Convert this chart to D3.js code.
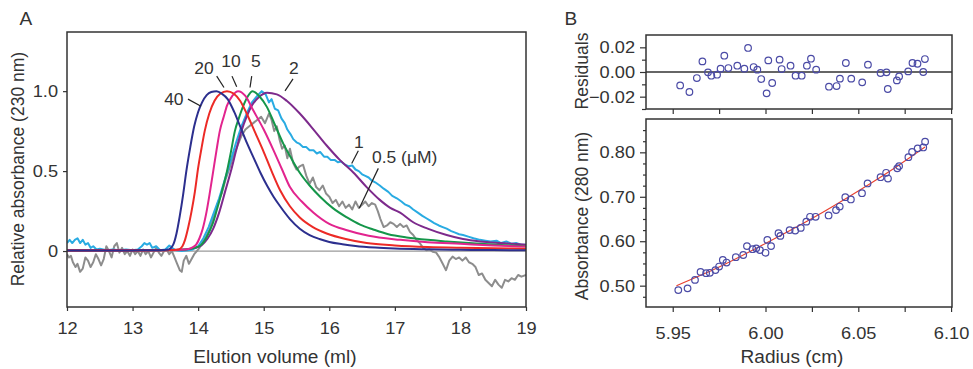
<!DOCTYPE html>
<html>
<head>
<meta charset="utf-8">
<script src="https://cdn.jsdelivr.net/npm/d3@7"></script>
<style>
  body { margin: 0; background: #fff; }
  text { font-family: "Liberation Sans", Arial, sans-serif; fill: #333; }
</style>
</head>
<body>
<svg id="fig" width="973" height="369"></svg>
<script>
// ---- Panel A data: elution profiles, normalised absorbance at 230 nm ----
const volumeTicks = [12, 13, 14, 15, 16, 17, 18, 19];
const relAbsTicks = [0, 0.5, 1.0];
const relAbsTickLabels = ['0', '0.5', '1.0'];

const vol40 = [12, 12.5, 13, 13.4, 13.55, 13.62, 13.67, 13.72, 13.77, 13.82, 13.88, 13.94, 14.0, 14.06, 14.13, 14.2, 14.28, 14.36, 14.45, 14.55, 14.65, 14.75, 14.85, 14.95, 15.05, 15.15, 15.25, 15.4, 15.55, 15.7, 15.85, 16.0, 16.2, 16.4, 16.7, 17.0, 17.5, 18, 18.5, 19];
const abs40 = [0.003, 0.003, 0.004, 0.005, 0.01, 0.04, 0.11, 0.22, 0.35, 0.50, 0.65, 0.78, 0.87, 0.93, 0.975, 0.995, 1.0, 0.985, 0.95, 0.87, 0.77, 0.67, 0.58, 0.49, 0.41, 0.34, 0.28, 0.20, 0.14, 0.10, 0.075, 0.057, 0.043, 0.032, 0.022, 0.016, 0.011, 0.008, 0.006, 0.005];

const vol20 = [12, 12.5, 13, 13.5, 13.7, 13.76, 13.8, 13.85, 13.9, 13.95, 14.0, 14.05, 14.1, 14.17, 14.25, 14.34, 14.44, 14.54, 14.64, 14.74, 14.86, 14.99, 15.12, 15.25, 15.4, 15.55, 15.75, 15.96, 16.25, 16.57, 17.0, 17.5, 18, 18.5, 19];
const abs20 = [0.004, 0.004, 0.004, 0.005, 0.01, 0.03, 0.07, 0.15, 0.25, 0.37, 0.52, 0.64, 0.75, 0.86, 0.94, 0.985, 1.0, 0.985, 0.94, 0.86, 0.75, 0.63, 0.50, 0.38, 0.28, 0.21, 0.15, 0.11, 0.075, 0.05, 0.035, 0.025, 0.02, 0.017, 0.015];

const vol10 = [12, 12.5, 13, 13.5, 13.8, 13.9, 13.97, 14.02, 14.07, 14.13, 14.18, 14.23, 14.28, 14.33, 14.39, 14.44, 14.52, 14.61, 14.72, 14.84, 15.0, 15.15, 15.28, 15.4, 15.58, 15.76, 16.0, 16.27, 16.6, 17.08, 17.5, 18, 18.5, 19];
const abs10 = [0.005, 0.005, 0.005, 0.006, 0.01, 0.02, 0.04, 0.08, 0.14, 0.25, 0.37, 0.50, 0.63, 0.75, 0.84, 0.91, 0.97, 1.0, 0.97, 0.88, 0.76, 0.63, 0.51, 0.40, 0.31, 0.24, 0.17, 0.13, 0.095, 0.07, 0.055, 0.045, 0.035, 0.028];

const vol5 = [12, 12.5, 13, 13.5, 13.8, 13.95, 14.05, 14.12, 14.18, 14.23, 14.28, 14.36, 14.44, 14.5, 14.56, 14.62, 14.69, 14.76, 14.83, 14.93, 15.05, 15.17, 15.30, 15.42, 15.55, 15.7, 15.86, 16.05, 16.27, 16.47, 16.67, 16.9, 17.18, 17.5, 17.79, 18.3, 18.7, 19];
const abs5 = [0.005, 0.005, 0.005, 0.006, 0.01, 0.02, 0.04, 0.08, 0.13, 0.18, 0.25, 0.37, 0.50, 0.62, 0.75, 0.83, 0.91, 0.97, 1.0, 0.97, 0.90, 0.79, 0.67, 0.58, 0.49, 0.41, 0.34, 0.27, 0.21, 0.165, 0.135, 0.105, 0.085, 0.07, 0.06, 0.045, 0.036, 0.03];

const vol2 = [12, 12.5, 13, 13.5, 13.8, 13.95, 14.05, 14.14, 14.23, 14.32, 14.41, 14.5, 14.58, 14.66, 14.74, 14.82, 14.92, 15.05, 15.2, 15.35, 15.55, 15.76, 15.96, 16.16, 16.37, 16.57, 16.77, 16.93, 17.08, 17.28, 17.5, 17.79, 18.04, 18.3, 18.6, 19];
const abs2 = [0.004, 0.004, 0.004, 0.005, 0.01, 0.02, 0.035, 0.075, 0.14, 0.24, 0.37, 0.50, 0.63, 0.75, 0.84, 0.91, 0.96, 0.99, 0.98, 0.94, 0.86, 0.76, 0.66, 0.57, 0.49, 0.40, 0.32, 0.27, 0.24, 0.18, 0.14, 0.10, 0.075, 0.06, 0.05, 0.04];

const vol1 = [12.00, 12.04, 12.08, 12.12, 12.16, 12.20, 12.24, 12.28, 12.32, 12.36, 12.40, 12.45, 12.5, 12.6, 12.7, 12.8, 12.9, 13.0, 13.08, 13.14, 13.18, 13.22, 13.26, 13.30, 13.36, 13.42, 13.5, 13.56, 13.6, 13.66, 13.75, 13.85, 13.92, 14.0, 14.08, 14.16, 14.24, 14.32, 14.41, 14.5, 14.58, 14.66, 14.74, 14.82, 14.9, 14.97, 15.03, 15.08, 15.12, 15.17, 15.22, 15.27, 15.32, 15.36, 15.41, 15.45, 15.5, 15.55, 15.6, 15.65, 15.7, 15.76, 15.81, 15.86, 15.92, 15.97, 16.02, 16.08, 16.13, 16.18, 16.24, 16.3, 16.35, 16.4, 16.45, 16.5, 16.55, 16.6, 16.65, 16.7, 16.77, 16.83, 16.9, 16.96, 17.03, 17.1, 17.16, 17.22, 17.28, 17.35, 17.42, 17.48, 17.54, 17.6, 17.67, 17.73, 17.79, 17.86, 17.92, 17.98, 18.04, 18.12, 18.2, 18.3, 18.38, 18.46, 18.55, 18.62, 18.7, 18.78, 18.85, 18.92, 19.0];
const abs1 = [0.05, 0.07, 0.05, 0.07, 0.08, 0.05, 0.07, 0.04, 0.05, 0.02, 0.03, 0.01, 0.015, 0.005, 0.01, 0.005, 0.01, 0.005, 0.01, 0.03, 0.05, 0.04, 0.05, 0.02, 0.03, 0.005, 0.01, 0.035, 0.02, 0.005, 0.0, 0.005, 0.01, 0.03, 0.08, 0.15, 0.24, 0.33, 0.45, 0.57, 0.68, 0.78, 0.86, 0.93, 0.97, 1.0, 0.98, 0.93, 0.95, 0.89, 0.88, 0.83, 0.80, 0.76, 0.73, 0.70, 0.68, 0.67, 0.65, 0.65, 0.63, 0.63, 0.61, 0.62, 0.59, 0.59, 0.57, 0.57, 0.555, 0.56, 0.54, 0.53, 0.535, 0.51, 0.50, 0.48, 0.47, 0.46, 0.44, 0.43, 0.41, 0.39, 0.37, 0.345, 0.33, 0.31, 0.29, 0.28, 0.26, 0.24, 0.22, 0.205, 0.19, 0.175, 0.16, 0.15, 0.14, 0.125, 0.115, 0.105, 0.10, 0.09, 0.08, 0.07, 0.065, 0.06, 0.065, 0.05, 0.06, 0.045, 0.05, 0.04, 0.04];

const vol05 = [12.00, 12.03, 12.06, 12.09, 12.13, 12.16, 12.20, 12.24, 12.28, 12.32, 12.36, 12.40, 12.44, 12.48, 12.52, 12.56, 12.60, 12.64, 12.68, 12.72, 12.76, 12.80, 12.84, 12.88, 12.92, 12.96, 13.00, 13.04, 13.08, 13.12, 13.16, 13.20, 13.24, 13.28, 13.32, 13.36, 13.40, 13.44, 13.48, 13.52, 13.56, 13.60, 13.64, 13.68, 13.72, 13.75, 13.78, 13.82, 13.86, 13.90, 13.94, 13.98, 14.02, 14.06, 14.12, 14.18, 14.24, 14.30, 14.36, 14.42, 14.48, 14.54, 14.60, 14.66, 14.72, 14.78, 14.84, 14.90, 14.96, 15.02, 15.08, 15.12, 15.16, 15.20, 15.24, 15.28, 15.32, 15.36, 15.40, 15.45, 15.50, 15.55, 15.60, 15.65, 15.70, 15.75, 15.80, 15.85, 15.90, 15.95, 16.00, 16.05, 16.10, 16.15, 16.20, 16.25, 16.30, 16.35, 16.40, 16.45, 16.50, 16.55, 16.60, 16.65, 16.70, 16.74, 16.78, 16.83, 16.88, 16.93, 16.98, 17.03, 17.08, 17.13, 17.18, 17.23, 17.28, 17.33, 17.38, 17.43, 17.48, 17.53, 17.58, 17.63, 17.68, 17.73, 17.78, 17.83, 17.88, 17.93, 17.98, 18.03, 18.08, 18.13, 18.18, 18.23, 18.28, 18.33, 18.38, 18.43, 18.48, 18.53, 18.58, 18.63, 18.68, 18.73, 18.78, 18.83, 18.88, 18.93, 19.00];
const abs05 = [-0.02, -0.04, -0.03, -0.07, -0.10, -0.08, -0.13, -0.11, -0.04, -0.06, -0.10, -0.07, -0.02, -0.05, -0.09, -0.05, 0.03, 0.0, -0.04, 0.03, 0.05, -0.01, 0.02, -0.02, 0.0, -0.03, 0.01, -0.02, 0.0, -0.03, 0.01, -0.02, 0.0, -0.04, -0.01, 0.02, -0.01, -0.03, 0.0, 0.01, -0.02, 0.0, -0.04, -0.08, -0.12, -0.13, -0.06, -0.03, -0.08, -0.05, -0.02, 0.0, 0.02, 0.05, 0.09, 0.14, 0.22, 0.30, 0.36, 0.45, 0.52, 0.60, 0.66, 0.72, 0.76, 0.78, 0.80, 0.82, 0.84, 0.80, 0.86, 0.82, 0.75, 0.78, 0.70, 0.64, 0.66, 0.58, 0.64, 0.55, 0.51, 0.53, 0.54, 0.47, 0.42, 0.46, 0.40, 0.38, 0.41, 0.36, 0.34, 0.30, 0.32, 0.28, 0.31, 0.27, 0.29, 0.26, 0.31, 0.27, 0.29, 0.31, 0.28, 0.30, 0.29, 0.25, 0.20, 0.15, 0.16, 0.18, 0.17, 0.15, 0.17, 0.15, 0.16, 0.12, 0.10, 0.07, 0.05, 0.02, 0.005, 0.01, -0.005, -0.01, -0.04, -0.08, -0.12, -0.06, -0.035, -0.05, -0.04, -0.06, -0.04, -0.07, -0.08, -0.10, -0.15, -0.14, -0.18, -0.20, -0.22, -0.18, -0.21, -0.23, -0.18, -0.19, -0.17, -0.18, -0.15, -0.16, -0.15];

// curve labels, placed in data units (volume, relative absorbance)
const concLabels = ['40', '20', '10', '5', '2', '1', '0.5 (\u03bcM)'];
const labelVol = [13.63, 14.09, 14.50, 14.88, 15.46, 16.45, 16.65];
const labelAbs = [0.95, 1.144, 1.19, 1.19, 1.144, 0.678, 0.588];
const leaderVol = [[13.845, 14.044], [14.283, 14.394], [14.516, 14.588], [14.817, 14.791], [15.447, 15.325], [16.443, 16.342], [16.748, 16.458]];
const leaderAbs = [[0.950, 0.906], [1.094, 1.023], [1.094, 1.027], [1.094, 1.023], [1.077, 1.002], [0.627, 0.548], [0.517, 0.267]];

// ---- Panel B data: sedimentation equilibrium ----
const radiusTicks = [5.95, 5.975, 6.00, 6.025, 6.05, 6.075, 6.10];
const residualTicks = [-0.03, -0.02, -0.01, 0, 0.01, 0.02];
const absTicks = [0.475, 0.50, 0.525, 0.55, 0.575, 0.60, 0.625, 0.65, 0.675, 0.70, 0.725, 0.75, 0.775, 0.80, 0.825, 0.85];

const resRadius = [5.954, 5.959, 5.963, 5.966, 5.969, 5.9708, 5.9739, 5.9758, 5.9778, 5.980, 5.9848, 5.9886, 5.9906, 5.9936, 5.9956, 5.9977, 6.0006, 6.0015, 6.0036, 6.0076, 6.0087, 6.0135, 6.0162, 6.0195, 6.0223, 6.0245, 6.0273, 6.0342, 6.0383, 6.0401, 6.0433, 6.0462, 6.0521, 6.0552, 6.062, 6.0652, 6.0659, 6.0708, 6.072, 6.0769, 6.0792, 6.0819, 6.085, 6.0859];
const residuals = [-0.0109, -0.0162, -0.0049, 0.0086, -0.0003, -0.003, -0.0022, 0.0027, 0.0132, 0.0032, 0.0051, 0.0027, 0.0195, 0.004, 0.0019, -0.0057, -0.0173, 0.0094, -0.0089, 0.010, 0.0024, 0.0051, -0.003, -0.003, 0.0051, 0.0108, 0.0019, -0.0119, -0.0114, -0.0054, 0.0073, -0.0054, -0.0084, 0.0059, -0.0008, -0.0003, -0.0138, -0.0068, -0.0036, 0.0005, 0.0073, 0.0067, 0.0, 0.0105];

const absRadius = [5.953, 5.958, 5.962, 5.965, 5.968, 5.970, 5.973, 5.975, 5.977, 5.979, 5.984, 5.988, 5.990, 5.993, 5.995, 5.997, 6.000, 6.001, 6.003, 6.007, 6.008, 6.013, 6.016, 6.019, 6.022, 6.024, 6.027, 6.034, 6.038, 6.040, 6.043, 6.046, 6.052, 6.055, 6.062, 6.065, 6.066, 6.071, 6.072, 6.077, 6.079, 6.082, 6.085, 6.086];
const absorbance = [0.490, 0.494, 0.513, 0.531, 0.528, 0.529, 0.535, 0.543, 0.558, 0.552, 0.564, 0.569, 0.589, 0.582, 0.584, 0.580, 0.574, 0.603, 0.589, 0.618, 0.612, 0.625, 0.624, 0.630, 0.644, 0.655, 0.655, 0.658, 0.670, 0.678, 0.699, 0.694, 0.708, 0.730, 0.744, 0.754, 0.741, 0.764, 0.769, 0.789, 0.801, 0.809, 0.811, 0.824];

const fitRadius = [5.952, 5.975, 6.000, 6.025, 6.050, 6.070, 6.086];
const fitAbs = [0.500, 0.542, 0.595, 0.651, 0.713, 0.766, 0.812];

// ---------------------------------------------------------------
const svg = d3.select('#fig');
const ink = '#333';

// the source figure is slightly wider than tall, so horizontal text gets stretched a bit
function widen(sel, k) {
  sel.each(function () {
    const w = this.getComputedTextLength();
    d3.select(this).attr('textLength', w * k).attr('lengthAdjust', 'spacingAndGlyphs');
  });
}

function styleAxis(g, size) {
  g.select('.domain').remove();
  g.selectAll('.tick line').attr('stroke', ink).attr('stroke-width', 1.2);
  g.selectAll('.tick text').attr('font-size', size).attr('fill', ink)
    .attr('font-family', '"Liberation Sans", Arial, sans-serif');
  widen(g.selectAll('.tick text'), 1.07);
}

// ===== Panel A =====
const xA = d3.scaleLinear().domain([12, 19]).range([67, 526]);
const yA = d3.scaleLinear().domain([-0.35, 1.37]).range([307, 32]);

svg.append('defs').append('clipPath').attr('id', 'clipA')
  .append('rect').attr('x', xA(12)).attr('y', yA(1.37))
  .attr('width', xA(19) - xA(12)).attr('height', yA(-0.35) - yA(1.37));

svg.append('g').attr('transform', `translate(0,${yA(-0.35)})`)
  .call(d3.axisBottom(xA).tickValues(volumeTicks).tickSize(4).tickPadding(11).tickFormat(d3.format('d')))
  .call(g => styleAxis(g, 17));

svg.append('g').attr('transform', `translate(${xA(12)},0)`)
  .call(d3.axisLeft(yA).tickValues(relAbsTicks).tickSize(4).tickPadding(5).tickFormat((d, i) => relAbsTickLabels[i]))
  .call(g => styleAxis(g, 17));

const plotA = svg.append('g').attr('clip-path', 'url(#clipA)');

plotA.append('line')
  .attr('x1', xA(12)).attr('x2', xA(19)).attr('y1', yA(0)).attr('y2', yA(0))
  .attr('stroke', '#9a9a9a').attr('stroke-width', 1.2);

const seriesA = [
  { vol: vol05, abs: abs05, color: '#8d8d8d', curve: d3.curveLinear },
  { vol: vol1, abs: abs1, color: '#29abe2', curve: d3.curveLinear },
  { vol: vol2, abs: abs2, color: '#7d2a8c', curve: d3.curveMonotoneX },
  { vol: vol5, abs: abs5, color: '#15964a', curve: d3.curveMonotoneX },
  { vol: vol10, abs: abs10, color: '#e2248e', curve: d3.curveMonotoneX },
  { vol: vol20, abs: abs20, color: '#ec2a26', curve: d3.curveMonotoneX },
  { vol: vol40, abs: abs40, color: '#2c2f8e', curve: d3.curveMonotoneX },
];

seriesA.forEach(s => {
  const pts = s.vol.map((v, i) => [v, s.abs[i]]);
  plotA.append('path')
    .datum(pts)
    .attr('fill', 'none')
    .attr('stroke', s.color)
    .attr('stroke-width', 2)
    .attr('stroke-linejoin', 'round')
    .attr('d', d3.line().curve(s.curve).x(d => xA(d[0])).y(d => yA(d[1])));
});

svg.append('rect')
  .attr('x', xA(12)).attr('y', yA(1.37))
  .attr('width', xA(19) - xA(12)).attr('height', yA(-0.35) - yA(1.37))
  .attr('fill', 'none').attr('stroke', ink).attr('stroke-width', 1.5);

// curve labels and leaders
concLabels.forEach((t, i) => {
  svg.append('line')
    .attr('x1', xA(leaderVol[i][0])).attr('y1', yA(leaderAbs[i][0]))
    .attr('x2', xA(leaderVol[i][1])).attr('y2', yA(leaderAbs[i][1]))
    .attr('stroke', '#222').attr('stroke-width', 1.2);
  svg.append('text')
    .attr('x', xA(labelVol[i])).attr('y', yA(labelAbs[i]))
    .attr('dy', '0.35em')
    .attr('text-anchor', i === concLabels.length - 1 ? 'start' : 'middle')
    .attr('font-size', 16.5)
    .text(t)
    .call(widen, 1.06);
});

svg.append('text').attr('x', 26).attr('y', 19).attr('dy', '0.35em')
  .attr('text-anchor', 'middle').attr('font-size', 17.5).text('A').call(widen, 1.09);
svg.append('text').attr('x', 275).attr('y', 357).attr('dy', '0.35em')
  .attr('text-anchor', 'middle').attr('font-size', 17.5).text('Elution volume (ml)').call(widen, 1.09);
svg.append('text').attr('transform', `translate(18,${yA(0.5) - 2}) rotate(-90)`)
  .attr('dy', '0.35em').attr('text-anchor', 'middle').attr('font-size', 17.5)
  .text('Relative absorbance (230 nm)');

// ===== Panel B =====
const xB = d3.scaleLinear().domain([5.9356, 6.1005]).range([646, 952]);
const yRes = d3.scaleLinear().domain([-0.03, 0.03]).range([109, 35]);
const yAbs = d3.scaleLinear().domain([0.452, 0.875]).range([307, 119]);

const isMajor = (v, step) => Math.abs(v / step - Math.round(v / step)) < 1e-6;

// residual panel
const resXAxis = svg.append('g').attr('transform', `translate(0,${yRes(-0.03)})`)
  .call(d3.axisBottom(xB).tickValues(radiusTicks).tickSize(5).tickFormat(''));
styleAxis(resXAxis, 17);

const resYAxis = svg.append('g').attr('transform', `translate(${xB.range()[0]},0)`)
  .call(d3.axisLeft(yRes).tickValues(residualTicks).tickSize(6).tickPadding(5)
    .tickFormat(d => (isMajor(d, 0.02) && d > -0.025) ? d3.format('.2f')(d) : ''));
styleAxis(resYAxis, 17);
resYAxis.selectAll('.tick line').attr('x2', d => isMajor(d, 0.02) ? -6 : -4);

svg.append('line')
  .attr('x1', xB.range()[0]).attr('x2', xB.range()[1]).attr('y1', yRes(0)).attr('y2', yRes(0))
  .attr('stroke', ink).attr('stroke-width', 1.5);

svg.append('g').selectAll('circle')
  .data(resRadius.map((r, i) => [r, residuals[i]]))
  .join('circle')
  .attr('cx', d => xB(d[0])).attr('cy', d => yRes(d[1])).attr('r', 3.3)
  .attr('fill', 'none').attr('stroke', '#4b4ba6').attr('stroke-width', 1.2);

svg.append('rect')
  .attr('x', xB.range()[0]).attr('y', yRes(0.03))
  .attr('width', xB.range()[1] - xB.range()[0]).attr('height', yRes(-0.03) - yRes(0.03))
  .attr('fill', 'none').attr('stroke', ink).attr('stroke-width', 1.5);

// absorbance panel
const absXAxis = svg.append('g').attr('transform', `translate(0,${yAbs(0.452)})`)
  .call(d3.axisBottom(xB).tickValues(radiusTicks).tickSize(5).tickPadding(15)
    .tickFormat(d => isMajor(d, 0.05) ? d3.format('.2f')(d) : ''));
styleAxis(absXAxis, 17);

const absYAxis = svg.append('g').attr('transform', `translate(${xB.range()[0]},0)`)
  .call(d3.axisLeft(yAbs).tickValues(absTicks).tickSize(6).tickPadding(5)
    .tickFormat(d => isMajor(d, 0.1) ? d3.format('.2f')(d) : ''));
styleAxis(absYAxis, 17);
absYAxis.selectAll('.tick line').attr('x2', d => isMajor(d, 0.1) ? -6 : -3);

svg.append('path')
  .datum(fitRadius.map((r, i) => [r, fitAbs[i]]))
  .attr('fill', 'none').attr('stroke', '#e8402f').attr('stroke-width', 1.1)
  .attr('d', d3.line().curve(d3.curveMonotoneX).x(d => xB(d[0])).y(d => yAbs(d[1])));

svg.append('g').selectAll('circle')
  .data(absRadius.map((r, i) => [r, absorbance[i]]))
  .join('circle')
  .attr('cx', d => xB(d[0])).attr('cy', d => yAbs(d[1])).attr('r', 3.3)
  .attr('fill', 'none').attr('stroke', '#4b4ba6').attr('stroke-width', 1.2);

svg.append('rect')
  .attr('x', xB.range()[0]).attr('y', yAbs(0.875))
  .attr('width', xB.range()[1] - xB.range()[0]).attr('height', yAbs(0.452) - yAbs(0.875))
  .attr('fill', 'none').attr('stroke', ink).attr('stroke-width', 1.5);

svg.append('text').attr('x', 571).attr('y', 19).attr('dy', '0.35em')
  .attr('text-anchor', 'middle').attr('font-size', 17.5).text('B').call(widen, 1.09);
svg.append('text').attr('x', 792).attr('y', 357).attr('dy', '0.35em')
  .attr('text-anchor', 'middle').attr('font-size', 17.5).text('Radius (cm)').call(widen, 1.09);
svg.append('text').attr('transform', `translate(582,71) rotate(-90)`)
  .attr('dy', '0.35em').attr('text-anchor', 'middle').attr('font-size', 17.5).text('Residuals');
svg.append('text').attr('transform', `translate(582,216) rotate(-90)`)
  .attr('dy', '0.35em').attr('text-anchor', 'middle').attr('font-size', 17.5).text('Absorbance (280 nm)');
</script>
</body>
</html>
